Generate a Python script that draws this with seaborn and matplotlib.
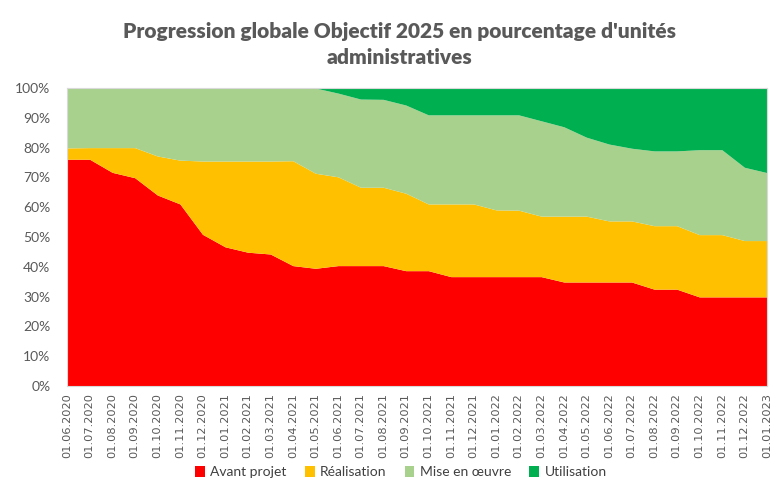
import numpy as np
import pandas as pd
import matplotlib
matplotlib.use("Agg")
import matplotlib.pyplot as plt
import seaborn as sns
from matplotlib.patches import Patch
from matplotlib.ticker import PercentFormatter

dates = ["01.06.2020", "01.07.2020", "01.08.2020", "01.09.2020", "01.10.2020", "01.11.2020",
         "01.12.2020", "01.01.2021", "01.02.2021", "01.03.2021", "01.04.2021", "01.05.2021",
         "01.06.2021", "01.07.2021", "01.08.2021", "01.09.2021", "01.10.2021", "01.11.2021",
         "01.12.2021", "01.01.2022", "01.02.2022", "01.03.2022", "01.04.2022", "01.05.2022",
         "01.06.2022", "01.07.2022", "01.08.2022", "01.09.2022", "01.10.2022", "01.11.2022",
         "01.12.2022", "01.01.2023"]

avant_projet = [76.1, 76.1, 71.7, 69.9, 64.1, 61.1, 50.9, 46.7, 44.9, 44.3, 40.4, 39.5,
                40.4, 40.4, 40.4, 38.7, 38.7, 36.7, 36.7, 36.7, 36.7, 36.7, 34.9, 34.9,
                34.9, 34.9, 32.5, 32.5, 29.9, 29.9, 29.9, 29.9]
realisation = [3.8, 3.9, 8.3, 10.1, 13.1, 14.7, 24.6, 28.8, 30.6, 31.2, 35.2, 31.9,
               29.8, 26.3, 26.3, 26.0, 22.4, 24.4, 24.4, 22.4, 22.3, 20.3, 22.1, 22.1,
               20.5, 20.5, 21.3, 21.3, 20.9, 20.9, 18.9, 18.9]
mise_en_oeuvre = [20.1, 20.0, 20.0, 20.0, 22.8, 24.2, 24.5, 24.5, 24.5, 24.5, 24.4, 28.6,
                  28.1, 29.6, 29.5, 29.6, 29.9, 29.9, 29.9, 31.9, 32.0, 32.0, 30.0, 26.5,
                  25.8, 24.4, 25.1, 25.1, 28.5, 28.5, 24.6, 22.8]
utilisation = [0, 0, 0, 0, 0, 0, 0, 0, 0, 0, 0, 0,
               1.7, 3.7, 3.8, 5.7, 9.0, 9.0, 9.0, 9.0, 9.0, 11.0, 13.0, 16.5,
               18.8, 20.2, 21.1, 21.1, 20.7, 20.7, 26.6, 28.4]

series_names = ["Avant projet", "Réalisation", "Mise en œuvre", "Utilisation"]
colors = ["#FF0000", "#FFC000", "#A9D18E", "#00B050"]

df = pd.DataFrame({"date": dates, series_names[0]: avant_projet, series_names[1]: realisation,
                   series_names[2]: mise_en_oeuvre, series_names[3]: utilisation})

sns.set_theme(style="white")
plt.rcParams["font.family"] = ["Lato", "DejaVu Sans"]

fig = plt.figure(figsize=(7.71, 4.99), dpi=100)
ax = fig.add_axes([0.0869, 0.2265, 0.9079, 0.5971])

x = np.arange(len(df))
ax.stackplot(x, *[df[n].values / 100 for n in series_names], colors=colors, linewidth=0)

ax.set_xlim(0, len(df) - 1)
ax.set_ylim(0, 1)
ax.yaxis.set_major_formatter(PercentFormatter(1.0, decimals=0))
ax.set_yticks(np.arange(0, 1.01, 0.1))
ax.set_xticks(x)
ax.set_xticklabels(df["date"], rotation=90, fontsize=8.2, color="#595959",
                   family=["DejaVu Sans"])
ax.tick_params(axis="y", labelsize=10, colors="#595959", length=0, pad=12)
ax.tick_params(axis="x", length=0, pad=5)
for s in ax.spines.values():
    s.set_color("#D9D9D9")
    s.set_linewidth(0.8)

fig.text(0.518, 0.955, "Progression globale Objectif 2025 en pourcentage d'unités\nadministratives",
         ha="center", va="top", fontsize=15, fontweight="heavy", color="#595959",
         linespacing=1.4)

handles = [Patch(facecolor=c, edgecolor="none", label=n) for n, c in zip(series_names, colors)]
fig.legend(handles=handles, loc="center", bbox_to_anchor=(0.52, 0.054), ncol=4, frameon=False,
           fontsize=10, handlelength=0.7, handleheight=0.9, handletextpad=0.4,
           columnspacing=1.3, labelcolor="#404040")

fig.savefig("out.png", dpi=100)
